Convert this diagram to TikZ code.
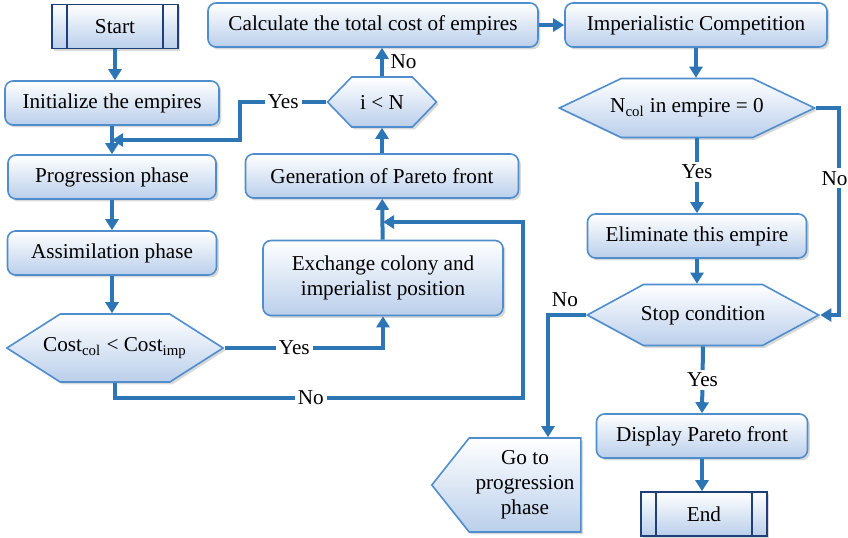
\documentclass[tikz,border=0pt]{standalone}
\usepackage{fontspec}
\setmainfont{Liberation Serif}
\usetikzlibrary{arrows.meta,shapes.symbols,shadows}
\definecolor{flowblue}{RGB}{46,117,182}
\definecolor{edgeblue}{RGB}{79,141,205}
\definecolor{navyedge}{RGB}{31,63,120}
\definecolor{paleblue}{RGB}{186,207,235}
\tikzset{%
  >={Triangle[width=6.5pt,length=5.5pt]},
  % Specifications for style of nodes:
  boxfill/.style = {top color=white, bottom color=paleblue,
                    drop shadow={shadow xshift=1.2pt, shadow yshift=-1.2pt, opacity=.3}},
  stepbox/.style = {boxfill, rectangle, rounded corners=4pt, draw=edgeblue,
                    line width=.8pt, minimum height=22pt, align=center},
  decision/.style = {boxfill, signal, signal to=east and west, draw=edgeblue,
                     line width=.8pt, inner sep=1pt},
  terminal/.style = {boxfill, rectangle, draw=navyedge, line width=.8pt,
                     minimum width=63pt, minimum height=22pt,
                     path picture={\draw[navyedge, line width=.8pt]
                       ([xshift=7.5pt]path picture bounding box.north west) -- ([xshift=7.5pt]path picture bounding box.south west)
                       ([xshift=-7.5pt]path picture bounding box.north east) -- ([xshift=-7.5pt]path picture bounding box.south east);}},
  flow/.style = {->, draw=flowblue, line width=2pt},
  tag/.style = {fill=white, inner sep=1.5pt}
}
\begin{document}
\begin{tikzpicture}[x=0.5pt, y=0.5pt, every node/.style={font=\fontsize{10.6}{12.4}\selectfont}]
  \useasboundingbox (0,0) rectangle (848,-537);

  % left column
  \node (start) [terminal] at (115,-26.5) {Start};
  \node (init)  [stepbox, minimum width=107pt] at (112,-103) {Initialize the empires};
  \node (prog)  [stepbox, minimum width=104pt] at (112,-177) {Progression phase};
  \node (assim) [stepbox, minimum width=104.5pt] at (112,-253) {Assimilation phase};
  \node (cost)  [decision, inner xsep=-8.5pt, minimum height=34pt, signal pointer angle=65] at (115,-348)
        {Cost\textsubscript{col} < Cost\textsubscript{imp}};

  % middle column
  \node (exch)  [stepbox, minimum width=120pt, minimum height=37.5pt] at (383,-278)
        {Exchange colony and\\imperialist position};
  \node (gen)   [stepbox, minimum width=136.5pt] at (382,-176) {Generation of Pareto front};
  \node (iltn)  [decision, minimum width=54.5pt, minimum height=25pt, signal pointer angle=92] at (382,-102) {i < N};
  \node (calc)  [stepbox, minimum width=165pt] at (373,-25) {Calculate the total cost of empires};

  % right column
  \node (imp)   [stepbox, minimum width=131pt] at (696,-25) {Imperialistic Competition};
  \node (ncol)  [decision, inner xsep=-5.5pt, minimum height=29.5pt, signal pointer angle=51] at (687,-108)
        {N\textsubscript{col} in empire = 0};
  \node (elim)  [stepbox, minimum width=109.5pt] at (697,-236) {Eliminate this empire};
  \node (stop)  [decision, inner xsep=-1.3pt, minimum height=30.5pt, signal pointer angle=57] at (703,-315) {Stop condition};
  \node (disp)  [stepbox, minimum width=105.5pt] at (702,-436) {Display Pareto front};
  \node (end)   [terminal] at (704,-514) {End};
  \node (goto)  [decision, signal to=west, signal from=nothing, minimum width=74.5pt, minimum height=47pt,
                 signal pointer angle=103, align=center] at (525,-485) {Go to\\progression\\phase};

  \coordinate (yesturn) at (240,-140);
  \coordinate (nocorner) at (523,-398);
  \coordinate (noback) at (523,-222);
  \coordinate (golane) at (548,-315);

  \draw[flow] (start.south) -- (start.south |- init.north);
  \draw[flow] (init) -- (prog);
  \draw[flow] (prog) -- (assim);
  \draw[flow] (assim.south) -- (assim.south |- cost.north);
  \draw[flow] (iltn.west) -- node[tag]{Yes} (iltn.west -| yesturn) -- (yesturn) -- (yesturn -| init.south);
  \draw[flow] (cost.east) -| node[tag, pos=.22]{Yes} (exch.south);
  \draw[flow] (cost.south) |- node[tag, pos=.74]{No} (nocorner) -- (noback) -- (noback -| exch.north);
  \draw[flow] (exch) -- (gen);
  \draw[flow] (gen) -- (iltn);
  \draw[flow] (iltn.north) -- node[right]{No} (iltn.north |- calc.south);
  \draw[flow] (calc) -- (imp);
  \draw[flow] (imp.south) -- (imp.south |- ncol.north);
  \draw[flow] (elim.north |- ncol.south) -- node[tag, pos=.45]{Yes} (elim.north);
  \draw[flow] (ncol.east) -- ++(23,0) |- node[tag, pos=.17, xshift=-2.5pt]{No} (stop.east);
  \draw[flow] (elim.south) -- (elim.south |- stop.north);
  \draw[flow] (stop.south) -- node[tag]{Yes} (disp.north);
  \draw[flow] (stop.west) -- node[above, pos=.55]{No} (golane) -- (golane |- goto.north);
  \draw[flow] (disp.south) -- (disp.south |- end.north);
\end{tikzpicture}
\end{document}
